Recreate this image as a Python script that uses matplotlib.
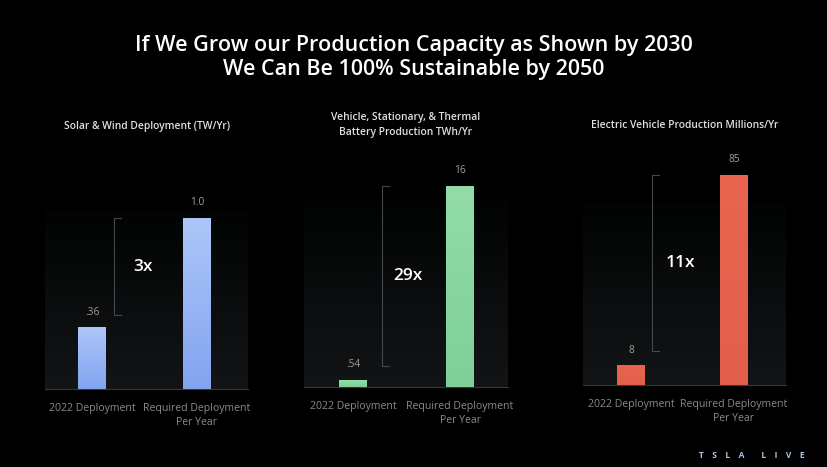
import numpy as np
import matplotlib.pyplot as plt
from matplotlib.colors import LinearSegmentedColormap

# data
categories = ['2022 Deployment', 'Required Deployment\nPer Year']
panel_titles = ['Solar & Wind Deployment (TW/Yr)',
                'Vehicle, Stationary, & Thermal\nBattery Production TWh/Yr',
                'Electric Vehicle Production Millions/Yr']
solar_wind = [0.36, 1.0]
battery = [0.54, 16]
ev = [8, 85]
value_labels = [['.36', '1.0'], ['.54', '16'], ['8', '85']]
multipliers = ['3x', '29x', '11x']

series = [solar_wind, battery, ev]
bar_top = ['#adc6f9', '#93dcaa', '#e9654f']
bar_bot = ['#82a4f0', '#7fcf97', '#e25f4c']

W, H = 828, 467
fig = plt.figure(figsize=(W / 100, H / 100), dpi=100)
fig.patch.set_facecolor('black')
plt.rcParams['font.family'] = ['Open Sans', 'DejaVu Sans']

# panel boxes in pixels: left, right, top, baseline, top-of-big-bar
boxes = [(45, 248, 210, 389, 218), (304, 508, 200, 387, 186), (583, 786, 203, 385, 175)]
bar_centers = [(92, 197), (353, 460), (631, 734)]
bracket_x = [114, 382, 652]
mult_x = [143, 408, 681]
title_y = [126, 125, 126]

bg_cmap = LinearSegmentedColormap.from_list('bg', ['#020303', '#0a0c0d', '#121416'])

fig.text(0.5, 1 - 46 / H, 'If We Grow our Production Capacity as Shown by 2030',
         color='white', fontsize=15.5, ha='center', va='center', fontweight='semibold')
fig.text(0.5, 1 - 70 / H, 'We Can Be 100% Sustainable by 2050',
         color='white', fontsize=15.5, ha='center', va='center', fontweight='semibold')

for i, vals in enumerate(series):
    l, r, t, b, big = boxes[i]
    ax = fig.add_axes([l / W, 1 - b / H, (r - l) / W, (b - t) / H])
    ax.set_facecolor('black')
    c0, c1 = bar_centers[i]
    unit = (c1 - c0)  # pixels per x unit
    ax.imshow(np.linspace(0, 1, 100).reshape(-1, 1), cmap=bg_cmap, aspect='auto',
              extent=(0, 1, 0, 1), transform=ax.transAxes, zorder=0, origin='upper')
    for s in ['top', 'right', 'left']:
        ax.spines[s].set_visible(False)
    ax.spines['bottom'].set_color('#35383b')
    ax.spines['bottom'].set_linewidth(0.8)

    x = np.arange(len(vals))
    bars = ax.bar(x, vals, width=28 / unit, color=bar_bot[i], zorder=2)
    cm = LinearSegmentedColormap.from_list('g%d' % i, [bar_bot[i], bar_top[i]])
    for rect in bars:
        x0, y0 = rect.get_x(), rect.get_y()
        im = ax.imshow(np.linspace(0, 1, 100).reshape(-1, 1), cmap=cm, aspect='auto',
                       origin='lower', zorder=3,
                       extent=(x0, x0 + rect.get_width(), y0, y0 + rect.get_height()))
        im.set_clip_path(rect)
    ax.set_xlim(-(c0 - l) / unit, 1 + (r - c1) / unit)
    ax.set_ylim(0, vals[1] * (b - t) / (b - big))

    for xi, v, lab in zip(x, vals, value_labels[i]):
        ax.annotate(lab, (xi, v), xytext=(0, 7), textcoords='offset points',
                    ha='center', va='bottom', color='#a0a0a0', fontsize=7.3,
                    annotation_clip=False)

    # bracket between the two values
    bx = (bracket_x[i] - c0) / unit
    ylo = vals[0] + vals[1] * 0.07
    yhi = vals[1]
    tick = 7 / unit
    ax.plot([bx + tick, bx, bx, bx + tick], [ylo, ylo, yhi, yhi],
            color='#45484b', lw=0.8, zorder=2, clip_on=False)
    ax.text((mult_x[i] - c0) / unit, (ylo + yhi) / 2, multipliers[i],
            color='white', fontsize=12.5, ha='center', va='center',
            fontweight='semibold')

    ax.set_xticks(x)
    ax.set_xticklabels(categories, color='#8a8a8a', fontsize=7.6, linespacing=1.4,
                       va='top')
    ax.tick_params(axis='x', length=0, pad=10)
    ax.set_yticks([])

    fig.text((l + r) / 2 / W, 1 - title_y[i] / H, panel_titles[i], color='#e0e0e0',
             fontsize=7.4, ha='center', va='center', linespacing=1.45,
             fontweight='semibold')

fig.text(752 / W, 1 - 455 / H, 'T    S    L    A        L    I    V    E',
         color='#a8c8ec', fontsize=6, ha='center', va='center', fontweight='bold')

plt.savefig('out.png', dpi=100, facecolor='black')
